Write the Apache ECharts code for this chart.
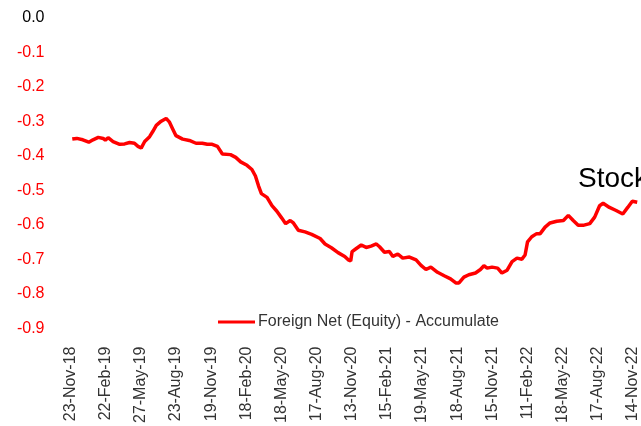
<!DOCTYPE html>
<html>
<head>
<meta charset="utf-8">
<script src="https://cdn.jsdelivr.net/npm/echarts@6/dist/echarts.min.js"></script>
<style>
    html, body { margin: 0; padding: 0; background: #fff; }
    #g-echart { width: 641px; height: 426px; }
</style>
</head>
<body>
<div id="g-echart"></div>
<script>
// tick labels along the bottom, one per step of the x axis
var xLabels = ['23-Nov-18', '22-Feb-19', '27-May-19', '23-Aug-19', '19-Nov-19', '18-Feb-20',
    '18-May-20', '17-Aug-20', '13-Nov-20', '15-Feb-21', '19-May-21', '18-Aug-21',
    '15-Nov-21', '11-Feb-22', '18-May-22', '17-Aug-22', '14-Nov-22'];

// position of each point, counted in tick steps from 23-Nov-18
var xPos = [
    0.05, 0.18, 0.35, 0.52, 0.64, 0.79, 0.93, 0.99, 1.07, 1.21, 1.40, 1.54, 1.68, 1.82, 1.92, 2.01,
    2.11, 2.25, 2.34, 2.44, 2.58, 2.72, 2.81, 2.90, 3.00, 3.19, 3.38, 3.57, 3.75, 3.89, 4.03,
    4.18, 4.32, 4.55, 4.70, 4.84, 5.02, 5.16, 5.26, 5.35, 5.43, 5.59, 5.73, 5.87, 6.01, 6.12,
    6.25, 6.34, 6.48, 6.67, 6.86, 7.10, 7.24, 7.42, 7.61, 7.80,
    7.90, 7.97, 8.01, 8.13, 8.27, 8.41, 8.55, 8.70, 8.79, 8.93, 9.07, 9.17, 9.31, 9.45, 9.64,
    9.83, 9.97, 10.11, 10.25, 10.44, 10.63, 10.81, 10.96, 11.05, 11.19, 11.33, 11.52, 11.66, 11.76, 11.85,
    11.99, 12.15, 12.27, 12.42, 12.56, 12.70, 12.84, 12.93, 13.00, 13.12, 13.26, 13.36, 13.50, 13.64,
    13.83, 14.02, 14.16, 14.30, 14.44, 14.58, 14.77, 14.91, 15.05, 15.15, 15.33, 15.52, 15.71,
    15.85, 15.98, 16.12
];

// Foreign Net (Equity) - Accumulate
var foreignNet = [
    -0.351, -0.349, -0.353, -0.360, -0.353, -0.346, -0.349, -0.354, -0.347, -0.358, -0.366, -0.365, -0.361, -0.363, -0.372, -0.377,
    -0.358, -0.344, -0.329, -0.311, -0.299, -0.291, -0.301, -0.320, -0.341, -0.351, -0.355, -0.363, -0.363, -0.366, -0.366,
    -0.372, -0.394, -0.396, -0.404, -0.417, -0.427, -0.439, -0.458, -0.487, -0.509, -0.520, -0.544, -0.560, -0.580, -0.596,
    -0.587, -0.594, -0.615, -0.620, -0.627, -0.639, -0.655, -0.666, -0.680, -0.691,
    -0.701, -0.704, -0.677, -0.668, -0.658, -0.665, -0.661, -0.655, -0.663, -0.679, -0.677, -0.691, -0.684, -0.696, -0.693,
    -0.701, -0.717, -0.729, -0.722, -0.737, -0.747, -0.756, -0.768, -0.768, -0.751, -0.744, -0.739, -0.729, -0.718, -0.725,
    -0.722, -0.725, -0.739, -0.731, -0.706, -0.696, -0.699, -0.687, -0.649, -0.634, -0.625, -0.625, -0.606, -0.594,
    -0.589, -0.587, -0.572, -0.587, -0.601, -0.601, -0.596, -0.577, -0.544, -0.537, -0.549, -0.558, -0.568,
    -0.549, -0.531, -0.534
];

var seriesData = xPos.map(function (x, i) {
    return [x, foreignNet[i]];
});

var mychart = echarts.init(document.getElementById('g-echart'));

var option = {
    animation: false,
    backgroundColor: '#fff',
    textStyle: {fontFamily: 'Liberation Sans, Arial, sans-serif'},
    grid: {
        left: 70.5,
        right: 0,
        top: 18,
        bottom: 92
    },
    legend: {
        data: ['Foreign Net (Equity) - Accumulate'],
        left: 213,
        top: 309,
        icon: 'rect',
        itemWidth: 37,
        itemHeight: 3,
        textStyle: {
            fontSize: 16,
            color: '#333',
            padding: [0, 0, 0, -2]
        }
    },
    graphic: [{
        type: 'text',
        left: 578,
        top: 165,
        style: {
            text: 'Stock',
            fontSize: 28,
            fontFamily: 'Liberation Sans, Arial, sans-serif',
            fill: '#000'
        }
    }],
    xAxis: {
        type: 'value',
        min: 0,
        max: 16.12,
        interval: 1,
        axisLine: {show: false},
        axisTick: {show: false},
        splitLine: {show: false},
        axisLabel: {
            rotate: 90,
            margin: 18,
            fontSize: 16,
            color: '#333',
            formatter: function (v) {
                return Math.round(v) === v ? (xLabels[v] || '') : '';
            }
        }
    },
    yAxis: {
        type: 'value',
        min: -0.9,
        max: 0,
        interval: 0.1,
        axisLine: {show: false},
        axisTick: {show: false},
        splitLine: {show: false},
        axisLabel: {
            margin: 26,
            fontSize: 16,
            color: function (v) {
                return Math.abs(Number(v)) < 1e-9 ? '#000' : '#ff0000';
            },
            formatter: function (v) {
                return Math.abs(v) < 1e-9 ? '0.0' : v.toFixed(1);
            }
        }
    },
    series: [{
        name: 'Foreign Net (Equity) - Accumulate',
        type: 'line',
        showSymbol: false,
        color: '#ff0000',
        lineStyle: {width: 3.5, color: '#ff0000'},
        data: seriesData
    }]
};
mychart.setOption(option);
</script>
</body>
</html>
